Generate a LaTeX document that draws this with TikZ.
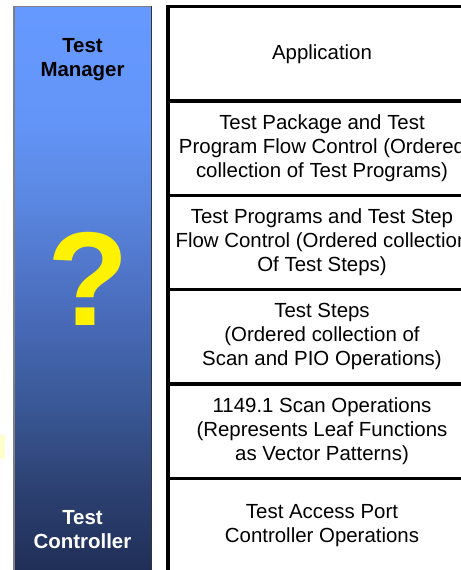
\documentclass[tikz,border=0pt]{standalone}
\usepackage{fontspec}
\setmainfont{Liberation Sans}
\usetikzlibrary{positioning}

\definecolor{barlight}{RGB}{102,153,255}
\definecolor{barmidA}{RGB}{99,149,248}
\definecolor{barmidB}{RGB}{90,135,225}
\definecolor{barmidC}{RGB}{75,110,190}
\definecolor{barmidD}{RGB}{58,88,150}
\definecolor{barmidE}{RGB}{45,66,115}
\definecolor{bardark}{RGB}{30,45,85}
\definecolor{notefill}{RGB}{255,255,204}

\pgfdeclareverticalshading{barshade}{100bp}{color(0bp)=(bardark); color(25bp)=(bardark);
  color(33bp)=(barmidE); color(40bp)=(barmidD); color(49bp)=(barmidC);
  color(58bp)=(barmidB); color(65bp)=(barmidA); color(75bp)=(barlight); color(100bp)=(barlight)}

\tikzset{
  layer/.style={draw, line width=3.3bp, outer sep=0pt, inner sep=0pt,
    minimum width=308bp, minimum height=94.3bp, align=center,
    font=\fontsize{20.5}{24}\selectfont},
  barlabel/.style={align=center, inner sep=0pt, font=\bfseries\fontsize{20.5}{24}\selectfont}
}

\begin{document}
\begin{tikzpicture}[x=1bp,y=-1bp]
    \useasboundingbox (0,0) rectangle (461,570);
    \clip (0,0) rectangle (461,570);

    % left bar
    \shade[shading=barshade] (14,6.5) rectangle (151,576);
    \draw[gray, line width=1.2bp] (14,576) -- (14,6.5) -- (151,6.5);
    \draw[black!80, line width=1bp] (151,6.5) -- (151,576);

    \node[barlabel] (mgr) at (82.5,59.5) {Test\\Manager};
    \node[barlabel, text=white] (ctrl) at (82.5,530) {Test\\Controller};
    \node[font=\bfseries\fontsize{134}{134}\selectfont, text=yellow, inner sep=0pt] (qmark) at (88,279) {?};

    % layer stack
    \node[layer] (app) at (322,53.85) {Application};
    \node[layer, below=0pt of app] (pkg) {Test Package and Test\\Program Flow Control (Ordered\\collection of Test Programs)};
    \node[layer, below=0pt of pkg] (prog) {Test Programs and Test Step\\Flow Control (Ordered collection\\Of Test Steps)};
    \node[layer, below=0pt of prog] (steps) {Test Steps\\(Ordered collection of\\Scan and PIO Operations)};
    \node[layer, below=0pt of steps] (scan) {1149.1 Scan Operations\\(Represents Leaf Functions\\as Vector Patterns)};
    \node[layer, below=0pt of scan] (tap) {Test Access Port\\Controller Operations};

    % stray note at the left edge
    \fill[notefill] (0,435) rectangle (5,459);
\end{tikzpicture}
\end{document}
